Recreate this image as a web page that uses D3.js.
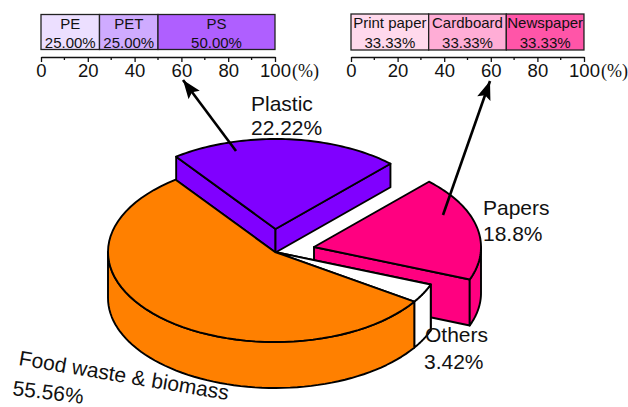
<!DOCTYPE html>
<html>
<head>
<meta charset="utf-8">
<script src="https://cdn.jsdelivr.net/npm/d3@7"></script>
<style>
  html, body { margin: 0; padding: 0; background: #fff; overflow: hidden; }
  svg { display: block; }
  text { font-family: "Liberation Sans", Arial, sans-serif; fill: #111; }
</style>
</head>
<body>
<svg id="chart" width="628" height="407"></svg>
<script>
// Waste composition
const wasteNames = ["Plastic", "Papers", "Others", "Food waste & biomass"];
const wasteValues = [22.22, 18.8, 3.42, 55.56];
const wasteColors = ["#8000ff", "#ff0080", "#ffffff", "#ff8000"];

// Breakdown of the plastic and paper fractions
const plasticParts = ["PE", "PET", "PS"];
const plasticValues = [25, 25, 50];
const plasticColors = ["#ecdfff", "#cfabff", "#af5fff"];
const paperParts = ["Print paper", "Cardboard", "Newspaper"];
const paperValues = [33.33, 33.33, 33.33];
const paperColors = ["#ffd9ec", "#ffadd6", "#ff55a8"];
const axisTicks = [0, 20, 40, 60, 80, 100];
const minorTicks = [10, 30, 50, 70, 90];

const svg = d3.select("#chart");
const FIRST_ANGLE = -36.5 * Math.PI / 180;
const RX = 167, RY = 90;

// Per-slice placement of the 3D pie: centre and wall height
const sliceLayout = [
  { cx: 275.5, cy: 229, depth: 23.5 },
  { cx: 314, cy: 247, depth: 46 },
  { cx: 275, cy: 252, depth: 46 },
  { cx: 275, cy: 252, depth: 46 }
];

const slices = d3.pie().sort(null)
  .startAngle(FIRST_ANGLE)
  .endAngle(FIRST_ANGLE + 2 * Math.PI)(wasteValues);

const outline = d3.line();
const project = (s, a, h = 0) => [s.cx + RX * Math.sin(a), s.cy - RY * Math.cos(a) + h];
const arcAngles = (a0, a1) => d3.range(0, 61).map(i => a0 + (a1 - a0) * i / 60);

const pieLayer = svg.append("g")
  .attr("stroke", "#000").attr("stroke-width", 1.9).attr("stroke-linejoin", "round");

function drawSlice(i) {
  const p = slices[i], s = sliceLayout[i], fill = wasteColors[i];
  const a0 = p.startAngle, a1 = p.endAngle;
  const g = pieLayer.append("g").attr("fill", fill);
  const apex = [s.cx, s.cy];
  const wall = pts => g.append("path").attr("d", outline(pts) + "Z");

  // Cut faces, visible only where they turn towards the viewer
  const cutFace = a => wall([apex, project(s, a), project(s, a, s.depth), [s.cx, s.cy + s.depth]]);
  if (i === 0) { cutFace(a0); cutFace(a1); }
  if (i === 1) { cutFace(a1); }
  if (i === 2) { cutFace(a0); }

  // Curved outer wall across the front half of the ellipse
  const lo = Math.max(a0, Math.PI / 2), hi = Math.min(a1, 3 * Math.PI / 2);
  if (hi > lo) {
    const top = arcAngles(lo, hi).map(a => project(s, a));
    const bottom = arcAngles(hi, lo).map(a => project(s, a, s.depth));
    wall(top.concat(bottom));
  }

  // Top face
  const top = arcAngles(a0, a1).map(a => project(s, a));
  wall([apex].concat(top));
}
[0, 1, 2, 3].forEach(drawSlice);

// Percentage strip with its own axis
function drawStrip(x0, x1, y0, y1, axisY, names, values, colors) {
  const x = d3.scaleLinear().domain([0, 100]).range([x0, x1]);
  const cumulative = d3.cumsum(values);
  const g = svg.append("g");
  names.forEach((name, i) => {
    const from = i ? cumulative[i - 1] : 0, to = cumulative[i];
    g.append("rect")
      .attr("x", x(from)).attr("y", y0)
      .attr("width", x(to) - x(from)).attr("height", y1 - y0)
      .attr("fill", colors[i]).attr("stroke", "#222").attr("stroke-width", 1.3);
    const mid = (x(from) + x(to)) / 2;
    g.append("text").attr("x", mid).attr("y", y0 + 14).attr("text-anchor", "middle")
      .attr("font-size", 15).text(name);
    g.append("text").attr("x", mid).attr("y", y1 - 2).attr("text-anchor", "middle")
      .attr("font-size", 15).text(values[i].toFixed(2) + "%");
  });

  const axis = svg.append("g").attr("transform", `translate(0,${axisY})`);
  axis.call(d3.axisBottom(x).tickValues(axisTicks).tickSize(5).tickPadding(2).tickSizeOuter(0));
  axis.select(".domain").attr("stroke", "#111").attr("stroke-width", 1.3);
  axis.selectAll(".tick line").attr("stroke", "#111").attr("stroke-width", 1.3);
  axis.selectAll(".tick text")
    .attr("font-size", 18.5).attr("fill", "#111")
    .attr("font-family", '"Liberation Sans", Arial, sans-serif');
  axis.selectAll(".minor").data(minorTicks).enter().append("line")
    .attr("x1", d => x(d)).attr("x2", d => x(d))
    .attr("y1", 0).attr("y2", 3)
    .attr("stroke", "#111").attr("stroke-width", 1.3);
  svg.append("text").attr("x", x1 + 17).attr("y", axisY + 20)
    .attr("font-size", 18).style("font-family", '"Liberation Serif", serif')
    .text("(%)");
}
drawStrip(41, 275, 14.5, 49.5, 57, plasticParts, plasticValues, plasticColors);
drawStrip(351, 584, 14, 50, 57, paperParts, paperValues, paperColors);

// Arrows linking the pie slices to their strips
const defs = svg.append("defs");
defs.append("marker").attr("id", "head")
  .attr("viewBox", "0 0 16 12").attr("refX", 16).attr("refY", 6)
  .attr("markerUnits", "userSpaceOnUse")
  .attr("markerWidth", 19).attr("markerHeight", 14).attr("orient", "auto")
  .append("path").attr("d", "M0,0L16,6L0,12L3,6Z").attr("fill", "#000");
const arrowLine = d3.line();
[[[236, 151], [183, 80]], [[443, 215], [490, 81]]].forEach(pts => {
  svg.append("path").attr("d", arrowLine(pts))
    .attr("stroke", "#000").attr("stroke-width", 2.6).attr("fill", "none")
    .attr("marker-end", "url(#head)");
});

// Slice labels
const label = (x, y, str, rot) => {
  const t = svg.append("text").attr("font-size", 21).text(str);
  t.attr("transform", `translate(${x},${y}) rotate(${rot || 0})`);
};
label(251, 111, wasteNames[0]);
label(251, 135, wasteValues[0].toFixed(2) + "%");
label(483, 215, wasteNames[1]);
label(483, 241, wasteValues[1].toFixed(1) + "%");
label(425, 342, wasteNames[2]);
label(424, 369, wasteValues[2].toFixed(2) + "%");
label(18, 365, wasteNames[3], 9.5);
label(12, 395, wasteValues[3].toFixed(2) + "%", 7);
</script>
</body>
</html>
